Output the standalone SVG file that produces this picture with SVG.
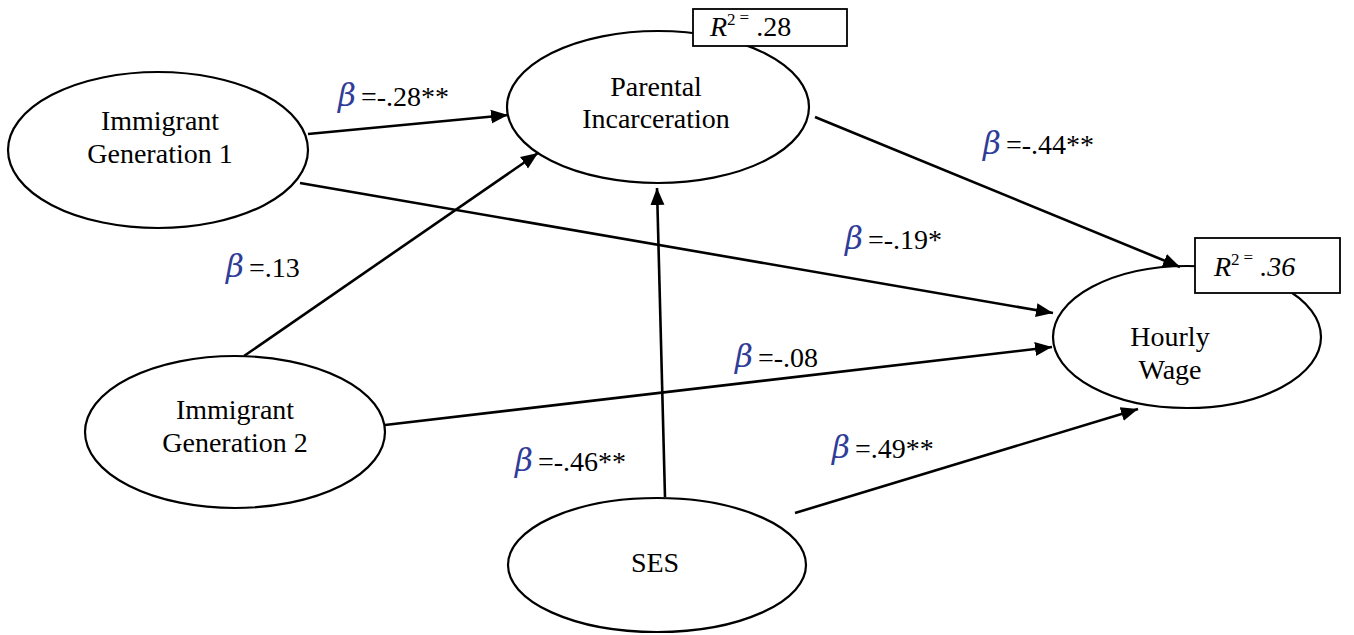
<svg xmlns="http://www.w3.org/2000/svg" width="1354" height="635" viewBox="0 0 1354 635">
<style>
.node{fill:#fff;stroke:#000;stroke-width:2.2}
.box{fill:#fff;stroke:#000;stroke-width:1.8}
text{font-family:"Liberation Serif","Times New Roman",serif;font-size:28px;fill:#000}
.c{text-anchor:middle}
.b{font-family:"DejaVu Serif",serif;font-style:italic;font-size:31px;fill:#2f3c98}
.conn{stroke:#000;stroke-width:2.6;fill:none;marker-end:url(#ah)}
</style>
<defs>
<marker id="ah" markerUnits="userSpaceOnUse" markerWidth="18" markerHeight="16" refX="17" refY="8" orient="auto">
<path d="M0,1 L17,8 L0,15 z" fill="#000"/>
</marker>
</defs>
<rect width="1354" height="635" fill="#fff"/>
<g id="gen1">
<ellipse class="node" cx="158" cy="150" rx="150" ry="78"/>
<text class="c" x="160" y="130">Immigrant</text>
<text class="c" x="160" y="163">Generation 1</text>
</g>
<g id="parental">
<ellipse class="node" cx="658" cy="107" rx="151" ry="76"/>
<text class="c" x="656" y="96">Parental</text>
<text class="c" x="656" y="128">Incarceration</text>
</g>
<g id="gen2">
<ellipse class="node" cx="235" cy="432" rx="150" ry="76"/>
<text class="c" x="235" y="419">Immigrant</text>
<text class="c" x="235" y="452">Generation 2</text>
</g>
<g id="ses">
<ellipse class="node" cx="657" cy="565" rx="149" ry="67"/>
<text class="c" x="655" y="572">SES</text>
</g>
<g id="wage">
<ellipse class="node" cx="1187" cy="337" rx="134" ry="71"/>
<text class="c" x="1170" y="346">Hourly</text>
<text class="c" x="1170" y="379">Wage</text>
</g>
<g id="connectors">
<line class="conn" x1="308" y1="134" x2="508" y2="115"/>
<line class="conn" x1="300" y1="183" x2="1053" y2="313"/>
<line class="conn" x1="244" y1="356" x2="538" y2="153"/>
<line class="conn" x1="385" y1="425" x2="1052" y2="347"/>
<line class="conn" x1="665" y1="497" x2="657" y2="188"/>
<line class="conn" x1="795" y1="513" x2="1138" y2="409"/>
<line class="conn" x1="815" y1="117" x2="1180" y2="267"/>
</g>
<g id="r2-parental">
<rect class="box" x="693" y="9" width="154" height="37"/>
<text x="710" y="36"><tspan font-style="italic">R</tspan><tspan font-size="17" dy="-11">2</tspan><tspan font-size="17" dx="4" dy="-2">=</tspan><tspan dy="13"> .28</tspan></text>
</g>
<g id="r2-wage">
<rect class="box" x="1195" y="238" width="145" height="55"/>
<text x="1214" y="276"><tspan font-style="italic">R</tspan><tspan font-size="17" dy="-11">2</tspan><tspan font-size="17" dx="4" dy="-2">=</tspan><tspan dy="13" font-style="italic"> .36</tspan></text>
</g>
<g id="labels">
<text class="b" x="338" y="106">β</text><text x="361" y="106">=-.28**</text>
<text class="b" x="983" y="154">β</text><text x="1006" y="154">=-.44**</text>
<text class="b" x="845" y="249">β</text><text x="868" y="249">=-.19*</text>
<text class="b" x="226" y="277">β</text><text x="249" y="277">=.13</text>
<text class="b" x="735" y="367">β</text><text x="758" y="367">=-.08</text>
<text class="b" x="515" y="471">β</text><text x="538" y="471">=-.46**</text>
<text class="b" x="832" y="458">β</text><text x="855" y="458">=.49**</text>
</g>
</svg>
